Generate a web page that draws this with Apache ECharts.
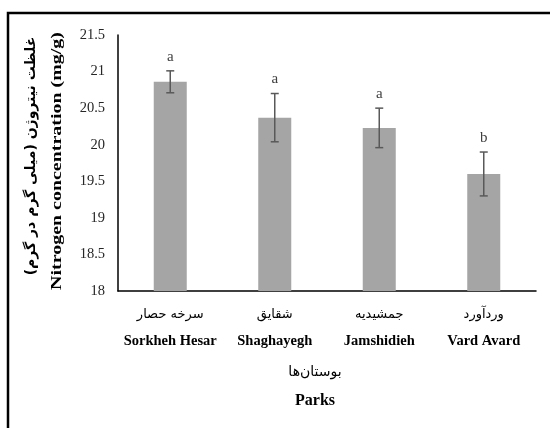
<!DOCTYPE html>
<html>
<head>
<meta charset="utf-8">
<script src="https://cdn.jsdelivr.net/npm/echarts@6/dist/echarts.min.js"></script>
<style>
    html, body { margin: 0; padding: 0; background: #fff; }
    #chart { width: 550px; height: 428px; }
</style>
</head>
<body>
<div id="chart"></div>
<script>
    // 数据
    var parksFa = ['سرخه حصار', 'شقایق', 'جمشیدیه', 'وردآورد'];
    var parksEn = ['Sorkheh Hesar', 'Shaghayegh', 'Jamshidieh', 'Vard Avard'];
    var nitrogen = [20.86, 20.37, 20.23, 19.60];
    var stdErr = [0.15, 0.33, 0.27, 0.30];
    var letters = ['a', 'a', 'a', 'b'];

    var serif = '"Liberation Serif", "Times New Roman", serif';
    var persian = '"DejaVu Sans", "Noto Sans", sans-serif';

    var chart = echarts.init(document.getElementById('chart'));

    var errData = nitrogen.map(function (v, i) {
        return [i, v - stdErr[i], v + stdErr[i]];
    });

    var option = {
        backgroundColor: '#fff',
        animation: false,
        grid: { left: 118, right: 14, top: 35, bottom: 137 },
        xAxis: {
            type: 'category',
            data: parksEn,
            axisLine: { lineStyle: { color: '#000', width: 1.5 } },
            axisTick: { show: false },
            axisLabel: {
                margin: 10,
                interval: 0,
                formatter: function (val, i) {
                    return '{fa|' + parksFa[i] + '}\n{en|' + val + '}';
                },
                rich: {
                    fa: { fontFamily: persian, fontSize: 13, color: '#000', lineHeight: 27 },
                    en: { fontFamily: serif, fontSize: 14.5, fontWeight: 'bold', color: '#000', lineHeight: 26 }
                }
            }
        },
        yAxis: {
            type: 'value',
            min: 18,
            max: 21.5,
            interval: 0.5,
            splitLine: { show: false },
            axisLine: { show: true, lineStyle: { color: '#000', width: 1.5 } },
            axisTick: { show: false },
            axisLabel: {
                margin: 13,
                fontFamily: serif,
                fontSize: 14.5,
                color: '#262626'
            }
        },
        series: [
            {
                type: 'bar',
                data: nitrogen,
                barWidth: 33,
                itemStyle: { color: '#a5a5a5' }
            },
            {
                type: 'custom',
                data: errData,
                z: 5,
                renderItem: function (params, api) {
                    var x = api.value(0);
                    var lo = api.coord([x, api.value(1)]);
                    var hi = api.coord([x, api.value(2)]);
                    var cap = 4;
                    var st = { stroke: '#595959', lineWidth: 1.5 };
                    return {
                        type: 'group',
                        children: [
                            { type: 'line', shape: { x1: hi[0], y1: hi[1], x2: lo[0], y2: lo[1] }, style: st },
                            { type: 'line', shape: { x1: hi[0] - cap, y1: hi[1], x2: hi[0] + cap, y2: hi[1] }, style: st },
                            { type: 'line', shape: { x1: lo[0] - cap, y1: lo[1], x2: lo[0] + cap, y2: lo[1] }, style: st },
                            {
                                type: 'text',
                                style: {
                                    x: hi[0], y: hi[1] - 14,
                                    text: letters[params.dataIndex],
                                    fill: '#404040',
                                    font: '15px ' + serif,
                                    align: 'center',
                                    verticalAlign: 'middle'
                                }
                            }
                        ]
                    };
                }
            }
        ],
        graphic: [
            {
                type: 'rect',
                shape: { x: 8, y: 13, width: 700, height: 600 },
                style: { fill: 'none', stroke: '#000', lineWidth: 2.5 },
                silent: true
            },
            {
                type: 'text',
                x: 31, y: 156,
                rotation: Math.PI / 2,
                style: {
                    text: 'غلظت نیتروژن (میلی گرم در گرم)',
                    font: 'bold 14px ' + persian,
                    fill: '#000',
                    align: 'center',
                    verticalAlign: 'middle'
                }
            },
            {
                type: 'text',
                x: 57, y: 161,
                rotation: Math.PI / 2,
                scaleX: 1.33,
                style: {
                    text: 'Nitrogen concentration (mg/g)',
                    font: 'bold 15px ' + serif,
                    fill: '#000',
                    align: 'center',
                    verticalAlign: 'middle'
                }
            },
            {
                type: 'text',
                x: 315, y: 372,
                style: {
                    text: 'بوستان‌ها',
                    font: '14px ' + persian,
                    fill: '#000',
                    align: 'center',
                    verticalAlign: 'middle'
                }
            },
            {
                type: 'text',
                x: 315, y: 401,
                style: {
                    text: 'Parks',
                    font: 'bold 16px ' + serif,
                    fill: '#000',
                    align: 'center',
                    verticalAlign: 'middle'
                }
            }
        ]
    };

    chart.setOption(option);
</script>
</body>
</html>
